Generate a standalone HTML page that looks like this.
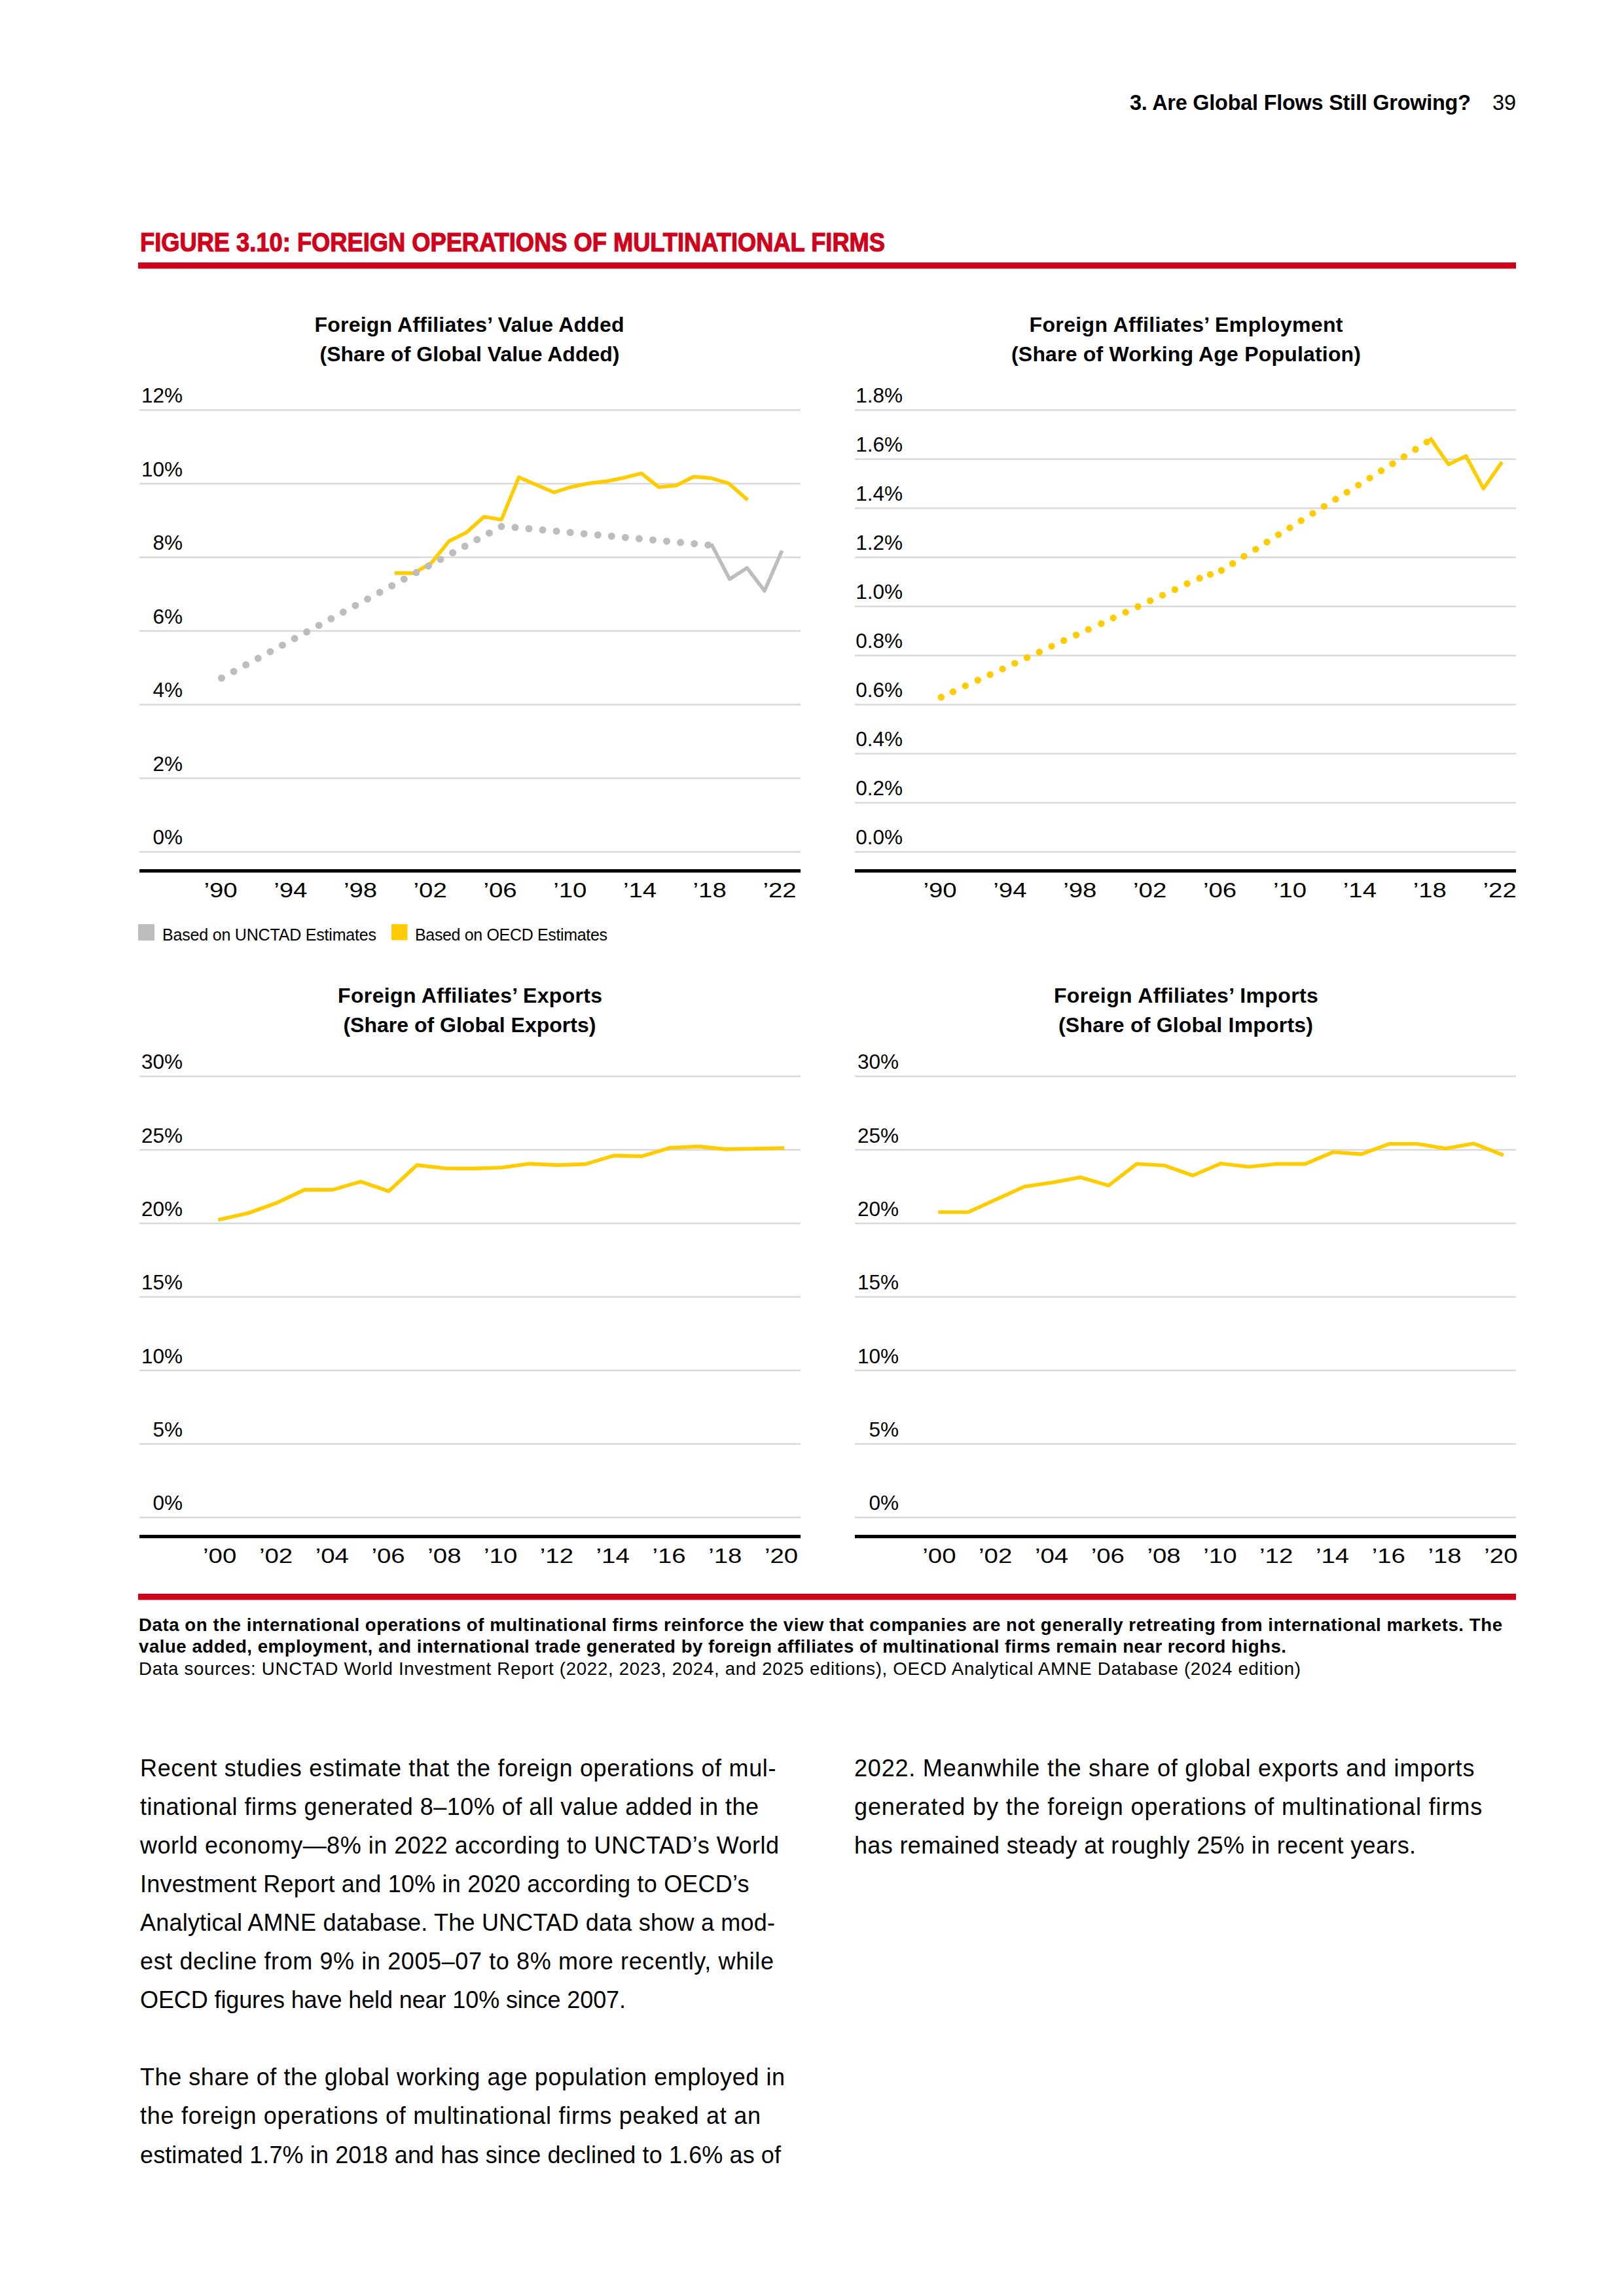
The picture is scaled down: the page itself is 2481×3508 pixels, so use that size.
<!DOCTYPE html>
<html><head><meta charset="utf-8"><title>Figure 3.10</title>
<style>
html,body{margin:0;padding:0;background:#fff;}
body{width:2481px;height:3508px;overflow:hidden;}
svg{display:block;font-family:"Liberation Sans", sans-serif;}
</style></head>
<body>
<svg width="2481" height="3508" viewBox="0 0 2481 3508">
<rect x="0" y="0" width="2481" height="3508" fill="#fff"/>
<text x="1726.0" y="168.0" font-size="32.4" font-weight="bold" text-anchor="start" textLength="521.0" lengthAdjust="spacing" fill="#000">3. Are Global Flows Still Growing?</text>
<text x="2280.0" y="168.0" font-size="32.4" text-anchor="start" fill="#000">39</text>
<text transform="translate(214,384) scale(0.8915,1)" x="0" y="0" font-size="40.7" font-weight="bold" fill="#d0021b" stroke="#d0021b" stroke-width="1.2">FIGURE 3.10: FOREIGN OPERATIONS OF MULTINATIONAL FIRMS</text>
<rect x="211" y="401" width="2105" height="9.5" fill="#d0021b"/>
<rect x="213" y="625.25" width="1010" height="2.5" fill="#d9d9d9"/>
<text x="279.0" y="615.3" font-size="31.5" text-anchor="end" fill="#000">12%</text>
<rect x="213" y="737.77" width="1010" height="2.5" fill="#d9d9d9"/>
<text x="279.0" y="727.8" font-size="31.5" text-anchor="end" fill="#000">10%</text>
<rect x="213" y="850.28" width="1010" height="2.5" fill="#d9d9d9"/>
<text x="279.0" y="840.3" font-size="31.5" text-anchor="end" fill="#000">8%</text>
<rect x="213" y="962.80" width="1010" height="2.5" fill="#d9d9d9"/>
<text x="279.0" y="952.8" font-size="31.5" text-anchor="end" fill="#000">6%</text>
<rect x="213" y="1075.32" width="1010" height="2.5" fill="#d9d9d9"/>
<text x="279.0" y="1065.4" font-size="31.5" text-anchor="end" fill="#000">4%</text>
<rect x="213" y="1187.83" width="1010" height="2.5" fill="#d9d9d9"/>
<text x="279.0" y="1177.9" font-size="31.5" text-anchor="end" fill="#000">2%</text>
<rect x="213" y="1300.35" width="1010" height="2.5" fill="#d9d9d9"/>
<text x="279.0" y="1290.4" font-size="31.5" text-anchor="end" fill="#000">0%</text>
<rect x="213" y="1328" width="1010" height="5.2" fill="#000"/>
<text transform="translate(337.0,1371) scale(1.2,1)" x="0" y="0" font-size="32" text-anchor="middle">’90</text>
<text transform="translate(443.8,1371) scale(1.2,1)" x="0" y="0" font-size="32" text-anchor="middle">’94</text>
<text transform="translate(550.5,1371) scale(1.2,1)" x="0" y="0" font-size="32" text-anchor="middle">’98</text>
<text transform="translate(657.2,1371) scale(1.2,1)" x="0" y="0" font-size="32" text-anchor="middle">’02</text>
<text transform="translate(764.0,1371) scale(1.2,1)" x="0" y="0" font-size="32" text-anchor="middle">’06</text>
<text transform="translate(870.8,1371) scale(1.2,1)" x="0" y="0" font-size="32" text-anchor="middle">’10</text>
<text transform="translate(977.5,1371) scale(1.2,1)" x="0" y="0" font-size="32" text-anchor="middle">’14</text>
<text transform="translate(1084.2,1371) scale(1.2,1)" x="0" y="0" font-size="32" text-anchor="middle">’18</text>
<text transform="translate(1191.0,1371) scale(1.2,1)" x="0" y="0" font-size="32" text-anchor="middle">’22</text>
<rect x="1306" y="625.25" width="1010" height="2.5" fill="#d9d9d9"/>
<text x="1379.0" y="615.3" font-size="31.5" text-anchor="end" fill="#000">1.8%</text>
<rect x="1306" y="700.26" width="1010" height="2.5" fill="#d9d9d9"/>
<text x="1379.0" y="690.3" font-size="31.5" text-anchor="end" fill="#000">1.6%</text>
<rect x="1306" y="775.27" width="1010" height="2.5" fill="#d9d9d9"/>
<text x="1379.0" y="765.3" font-size="31.5" text-anchor="end" fill="#000">1.4%</text>
<rect x="1306" y="850.28" width="1010" height="2.5" fill="#d9d9d9"/>
<text x="1379.0" y="840.3" font-size="31.5" text-anchor="end" fill="#000">1.2%</text>
<rect x="1306" y="925.29" width="1010" height="2.5" fill="#d9d9d9"/>
<text x="1379.0" y="915.3" font-size="31.5" text-anchor="end" fill="#000">1.0%</text>
<rect x="1306" y="1000.31" width="1010" height="2.5" fill="#d9d9d9"/>
<text x="1379.0" y="990.4" font-size="31.5" text-anchor="end" fill="#000">0.8%</text>
<rect x="1306" y="1075.32" width="1010" height="2.5" fill="#d9d9d9"/>
<text x="1379.0" y="1065.4" font-size="31.5" text-anchor="end" fill="#000">0.6%</text>
<rect x="1306" y="1150.33" width="1010" height="2.5" fill="#d9d9d9"/>
<text x="1379.0" y="1140.4" font-size="31.5" text-anchor="end" fill="#000">0.4%</text>
<rect x="1306" y="1225.34" width="1010" height="2.5" fill="#d9d9d9"/>
<text x="1379.0" y="1215.4" font-size="31.5" text-anchor="end" fill="#000">0.2%</text>
<rect x="1306" y="1300.35" width="1010" height="2.5" fill="#d9d9d9"/>
<text x="1379.0" y="1290.4" font-size="31.5" text-anchor="end" fill="#000">0.0%</text>
<rect x="1306" y="1328" width="1010" height="5.2" fill="#000"/>
<text transform="translate(1436.0,1371) scale(1.2,1)" x="0" y="0" font-size="32" text-anchor="middle">’90</text>
<text transform="translate(1542.9,1371) scale(1.2,1)" x="0" y="0" font-size="32" text-anchor="middle">’94</text>
<text transform="translate(1649.8,1371) scale(1.2,1)" x="0" y="0" font-size="32" text-anchor="middle">’98</text>
<text transform="translate(1756.7,1371) scale(1.2,1)" x="0" y="0" font-size="32" text-anchor="middle">’02</text>
<text transform="translate(1863.6,1371) scale(1.2,1)" x="0" y="0" font-size="32" text-anchor="middle">’06</text>
<text transform="translate(1970.5,1371) scale(1.2,1)" x="0" y="0" font-size="32" text-anchor="middle">’10</text>
<text transform="translate(2077.4,1371) scale(1.2,1)" x="0" y="0" font-size="32" text-anchor="middle">’14</text>
<text transform="translate(2184.3,1371) scale(1.2,1)" x="0" y="0" font-size="32" text-anchor="middle">’18</text>
<text transform="translate(2291.2,1371) scale(1.2,1)" x="0" y="0" font-size="32" text-anchor="middle">’22</text>
<rect x="213" y="1643.25" width="1010" height="2.5" fill="#d9d9d9"/>
<text x="279.0" y="1633.3" font-size="31.5" text-anchor="end" fill="#000">30%</text>
<rect x="213" y="1755.58" width="1010" height="2.5" fill="#d9d9d9"/>
<text x="279.0" y="1745.6" font-size="31.5" text-anchor="end" fill="#000">25%</text>
<rect x="213" y="1867.92" width="1010" height="2.5" fill="#d9d9d9"/>
<text x="279.0" y="1858.0" font-size="31.5" text-anchor="end" fill="#000">20%</text>
<rect x="213" y="1980.25" width="1010" height="2.5" fill="#d9d9d9"/>
<text x="279.0" y="1970.3" font-size="31.5" text-anchor="end" fill="#000">15%</text>
<rect x="213" y="2092.58" width="1010" height="2.5" fill="#d9d9d9"/>
<text x="279.0" y="2082.6" font-size="31.5" text-anchor="end" fill="#000">10%</text>
<rect x="213" y="2204.92" width="1010" height="2.5" fill="#d9d9d9"/>
<text x="279.0" y="2195.0" font-size="31.5" text-anchor="end" fill="#000">5%</text>
<rect x="213" y="2317.25" width="1010" height="2.5" fill="#d9d9d9"/>
<text x="279.0" y="2307.3" font-size="31.5" text-anchor="end" fill="#000">0%</text>
<rect x="213" y="2345" width="1010" height="5.2" fill="#000"/>
<text transform="translate(335.7,2388) scale(1.2,1)" x="0" y="0" font-size="32" text-anchor="middle">’00</text>
<text transform="translate(421.5,2388) scale(1.2,1)" x="0" y="0" font-size="32" text-anchor="middle">’02</text>
<text transform="translate(507.3,2388) scale(1.2,1)" x="0" y="0" font-size="32" text-anchor="middle">’04</text>
<text transform="translate(593.1,2388) scale(1.2,1)" x="0" y="0" font-size="32" text-anchor="middle">’06</text>
<text transform="translate(678.9,2388) scale(1.2,1)" x="0" y="0" font-size="32" text-anchor="middle">’08</text>
<text transform="translate(764.7,2388) scale(1.2,1)" x="0" y="0" font-size="32" text-anchor="middle">’10</text>
<text transform="translate(850.4,2388) scale(1.2,1)" x="0" y="0" font-size="32" text-anchor="middle">’12</text>
<text transform="translate(936.2,2388) scale(1.2,1)" x="0" y="0" font-size="32" text-anchor="middle">’14</text>
<text transform="translate(1022.0,2388) scale(1.2,1)" x="0" y="0" font-size="32" text-anchor="middle">’16</text>
<text transform="translate(1107.8,2388) scale(1.2,1)" x="0" y="0" font-size="32" text-anchor="middle">’18</text>
<text transform="translate(1193.6,2388) scale(1.2,1)" x="0" y="0" font-size="32" text-anchor="middle">’20</text>
<rect x="1306" y="1643.25" width="1010" height="2.5" fill="#d9d9d9"/>
<text x="1373.1" y="1633.3" font-size="31.5" text-anchor="end" fill="#000">30%</text>
<rect x="1306" y="1755.58" width="1010" height="2.5" fill="#d9d9d9"/>
<text x="1373.1" y="1745.6" font-size="31.5" text-anchor="end" fill="#000">25%</text>
<rect x="1306" y="1867.92" width="1010" height="2.5" fill="#d9d9d9"/>
<text x="1373.1" y="1858.0" font-size="31.5" text-anchor="end" fill="#000">20%</text>
<rect x="1306" y="1980.25" width="1010" height="2.5" fill="#d9d9d9"/>
<text x="1373.1" y="1970.3" font-size="31.5" text-anchor="end" fill="#000">15%</text>
<rect x="1306" y="2092.58" width="1010" height="2.5" fill="#d9d9d9"/>
<text x="1373.1" y="2082.6" font-size="31.5" text-anchor="end" fill="#000">10%</text>
<rect x="1306" y="2204.92" width="1010" height="2.5" fill="#d9d9d9"/>
<text x="1373.1" y="2195.0" font-size="31.5" text-anchor="end" fill="#000">5%</text>
<rect x="1306" y="2317.25" width="1010" height="2.5" fill="#d9d9d9"/>
<text x="1373.1" y="2307.3" font-size="31.5" text-anchor="end" fill="#000">0%</text>
<rect x="1306" y="2345" width="1010" height="5.2" fill="#000"/>
<text transform="translate(1434.9,2388) scale(1.2,1)" x="0" y="0" font-size="32" text-anchor="middle">’00</text>
<text transform="translate(1520.7,2388) scale(1.2,1)" x="0" y="0" font-size="32" text-anchor="middle">’02</text>
<text transform="translate(1606.5,2388) scale(1.2,1)" x="0" y="0" font-size="32" text-anchor="middle">’04</text>
<text transform="translate(1692.3,2388) scale(1.2,1)" x="0" y="0" font-size="32" text-anchor="middle">’06</text>
<text transform="translate(1778.1,2388) scale(1.2,1)" x="0" y="0" font-size="32" text-anchor="middle">’08</text>
<text transform="translate(1863.9,2388) scale(1.2,1)" x="0" y="0" font-size="32" text-anchor="middle">’10</text>
<text transform="translate(1949.7,2388) scale(1.2,1)" x="0" y="0" font-size="32" text-anchor="middle">’12</text>
<text transform="translate(2035.5,2388) scale(1.2,1)" x="0" y="0" font-size="32" text-anchor="middle">’14</text>
<text transform="translate(2121.3,2388) scale(1.2,1)" x="0" y="0" font-size="32" text-anchor="middle">’16</text>
<text transform="translate(2207.1,2388) scale(1.2,1)" x="0" y="0" font-size="32" text-anchor="middle">’18</text>
<text transform="translate(2292.9,2388) scale(1.2,1)" x="0" y="0" font-size="32" text-anchor="middle">’20</text>
<text x="717.0" y="507.0" font-size="32" font-weight="bold" text-anchor="middle" textLength="473.0" lengthAdjust="spacing" fill="#000">Foreign Affiliates’ Value Added</text>
<text x="717.5" y="552.0" font-size="32" font-weight="bold" text-anchor="middle" textLength="458.0" lengthAdjust="spacing" fill="#000">(Share of Global Value Added)</text>
<text x="1812.0" y="507.0" font-size="32" font-weight="bold" text-anchor="middle" textLength="479.0" lengthAdjust="spacing" fill="#000">Foreign Affiliates’ Employment</text>
<text x="1812.0" y="552.0" font-size="32" font-weight="bold" text-anchor="middle" textLength="534.0" lengthAdjust="spacing" fill="#000">(Share of Working Age Population)</text>
<text x="718.1" y="1532.0" font-size="32" font-weight="bold" text-anchor="middle" textLength="404.0" lengthAdjust="spacing" fill="#000">Foreign Affiliates’ Exports</text>
<text x="717.4" y="1577.0" font-size="32" font-weight="bold" text-anchor="middle" textLength="386.0" lengthAdjust="spacing" fill="#000">(Share of Global Exports)</text>
<text x="1811.9" y="1532.0" font-size="32" font-weight="bold" text-anchor="middle" textLength="404.0" lengthAdjust="spacing" fill="#000">Foreign Affiliates’ Imports</text>
<text x="1811.5" y="1577.0" font-size="32" font-weight="bold" text-anchor="middle" textLength="389.0" lengthAdjust="spacing" fill="#000">(Share of Global Imports)</text>
<rect x="211" y="1412" width="25" height="25" fill="#bdbdbd"/>
<text x="248.0" y="1436.5" font-size="25" text-anchor="start" textLength="327.0" lengthAdjust="spacing" fill="#000">Based on UNCTAD Estimates</text>
<rect x="598" y="1412" width="24.5" height="24.5" fill="#ffcc00"/>
<text x="634.0" y="1436.5" font-size="25" text-anchor="start" textLength="294.0" lengthAdjust="spacing" fill="#000">Based on OECD Estimates</text>
<polyline points="605.7,875.6 632.4,875.6 659.1,860.0 685.9,827.0 712.6,813.6 739.3,789.6 766.0,794.0 792.7,729.2 819.5,740.7 846.2,752.3 872.9,743.9 899.6,738.5 926.3,735.4 953.1,730.0 979.8,723.3 1006.5,744.2 1033.2,741.7 1059.9,728.2 1086.7,730.6 1113.4,738.6 1140.1,762.0" fill="none" stroke="#ffcc00" stroke-width="5.6" stroke-linecap="square" stroke-linejoin="round"/>
<polyline points="338.5,1036.0 766.6,804.0 1087.9,833.2" fill="none" stroke="#bdbdbd" stroke-width="11" stroke-linecap="round" stroke-linejoin="round" stroke-dasharray="0 21.14"/>
<polyline points="1087.9,833.5 1114.6,884.8 1141.3,867.7 1168.0,902.7 1193.5,844.0" fill="none" stroke="#bdbdbd" stroke-width="5.6" stroke-linecap="square" stroke-linejoin="round"/>
<g fill="#ffcc00"><circle cx="1437.8" cy="1065.2" r="5.2"/><circle cx="1455.9" cy="1056.9" r="5.2"/><circle cx="1474.8" cy="1047.9" r="5.2"/><circle cx="1493.8" cy="1039.3" r="5.2"/><circle cx="1512.6" cy="1030.7" r="5.2"/><circle cx="1531.6" cy="1022.1" r="5.2"/><circle cx="1550.2" cy="1013.4" r="5.2"/><circle cx="1569.1" cy="1004.8" r="5.2"/><circle cx="1587.8" cy="996.2" r="5.2"/><circle cx="1606.6" cy="987.4" r="5.2"/><circle cx="1625.2" cy="978.8" r="5.2"/><circle cx="1644.1" cy="970.2" r="5.2"/><circle cx="1662.8" cy="961.6" r="5.2"/><circle cx="1682.4" cy="952.8" r="5.2"/><circle cx="1700.7" cy="944.1" r="5.2"/><circle cx="1719.7" cy="935.4" r="5.2"/><circle cx="1738.4" cy="926.7" r="5.2"/><circle cx="1757.2" cy="917.9" r="5.2"/><circle cx="1776" cy="909.4" r="5.2"/><circle cx="1794.9" cy="900.7" r="5.2"/><circle cx="1813.6" cy="891.8" r="5.2"/><circle cx="1832.6" cy="883.5" r="5.2"/><circle cx="1849" cy="877.6" r="5.2"/><circle cx="1866" cy="871.5" r="5.2"/><circle cx="1883.2" cy="861" r="5.2"/><circle cx="1900.4" cy="849.9" r="5.2"/><circle cx="1918.3" cy="839.2" r="5.2"/><circle cx="1935.5" cy="828.3" r="5.2"/><circle cx="1953.05" cy="816.9" r="5.2"/><circle cx="1970.45" cy="806.35" r="5.2"/><circle cx="1987.7" cy="795.5" r="5.2"/><circle cx="2005.4" cy="784.4" r="5.2"/><circle cx="2022.8" cy="773.6" r="5.2"/><circle cx="2040.4" cy="762.8" r="5.2"/><circle cx="2057.8" cy="752.1" r="5.2"/><circle cx="2075.2" cy="741.1" r="5.2"/><circle cx="2092.6" cy="730.4" r="5.2"/><circle cx="2110.1" cy="719.3" r="5.2"/><circle cx="2127.5" cy="708.5" r="5.2"/><circle cx="2144.9" cy="697.7" r="5.2"/><circle cx="2162.4" cy="686.5" r="5.2"/><circle cx="2179.8" cy="675.4" r="5.2"/></g>
<polyline points="2186.2,671.2 2212.9,709.5 2239.6,696.7 2266.3,746.5 2293.0,708.2" fill="none" stroke="#ffcc00" stroke-width="5.6" stroke-linecap="square" stroke-linejoin="round"/>
<polyline points="336.1,1863.2 379.1,1853.5 422.0,1838.2 465.0,1817.9 508.0,1817.9 551.0,1805.4 593.9,1820.0 636.9,1780.1 679.9,1785.0 722.8,1785.4 765.8,1784.0 808.8,1778.1 851.7,1780.1 894.7,1778.6 937.7,1765.6 980.6,1766.6 1023.6,1753.7 1066.6,1751.6 1109.6,1755.9 1152.5,1755.0 1195.5,1754.0" fill="none" stroke="#ffcc00" stroke-width="5.6" stroke-linecap="square" stroke-linejoin="round"/>
<polyline points="1436.2,1852.0 1479.1,1852.0 1522.0,1832.5 1564.9,1813.0 1607.8,1806.7 1650.7,1798.8 1693.6,1811.4 1736.5,1778.3 1779.4,1780.8 1822.3,1796.0 1865.2,1777.7 1908.1,1782.8 1951.0,1778.3 1993.9,1778.4 2036.8,1760.2 2079.7,1763.4 2122.6,1747.7 2165.5,1747.7 2208.4,1754.8 2251.3,1747.2 2294.2,1764.0" fill="none" stroke="#ffcc00" stroke-width="5.6" stroke-linecap="square" stroke-linejoin="round"/>
<rect x="211" y="2435" width="2105" height="9.5" fill="#d0021b"/>
<text x="212.0" y="2492.0" font-size="27.6" font-weight="bold" text-anchor="start" textLength="2083.0" lengthAdjust="spacing" fill="#000">Data on the international operations of multinational firms reinforce the view that companies are not generally retreating from international markets. The</text>
<text x="212.0" y="2525.0" font-size="27.6" font-weight="bold" text-anchor="start" textLength="1753.0" lengthAdjust="spacing" fill="#000">value added, employment, and international trade generated by foreign affiliates of multinational firms remain near record highs.</text>
<text x="212.0" y="2559.0" font-size="27.6" text-anchor="start" textLength="1775.0" lengthAdjust="spacing" fill="#000">Data sources: UNCTAD World Investment Report (2022, 2023, 2024, and 2025 editions), OECD Analytical AMNE Database (2024 edition)</text>
<text x="214.0" y="2714.0" font-size="36" text-anchor="start" textLength="971.5" lengthAdjust="spacing" fill="#000">Recent studies estimate that the foreign operations of mul-</text>
<text x="214.0" y="2773.1" font-size="36" text-anchor="start" textLength="945.0" lengthAdjust="spacing" fill="#000">tinational firms generated 8–10% of all value added in the</text>
<text x="214.0" y="2832.1" font-size="36" text-anchor="start" textLength="976.0" lengthAdjust="spacing" fill="#000">world economy—8% in 2022 according to UNCTAD’s World</text>
<text x="214.0" y="2891.2" font-size="36" text-anchor="start" textLength="930.5" lengthAdjust="spacing" fill="#000">Investment Report and 10% in 2020 according to OECD’s</text>
<text x="214.0" y="2950.2" font-size="36" text-anchor="start" textLength="970.0" lengthAdjust="spacing" fill="#000">Analytical AMNE database. The UNCTAD data show a mod-</text>
<text x="214.0" y="3009.2" font-size="36" text-anchor="start" textLength="968.0" lengthAdjust="spacing" fill="#000">est decline from 9% in 2005–07 to 8% more recently, while</text>
<text x="214.0" y="3068.3" font-size="36" text-anchor="start" textLength="742.0" lengthAdjust="spacing" fill="#000">OECD figures have held near 10% since 2007.</text>
<text x="214.0" y="3186.4" font-size="36" text-anchor="start" textLength="985.0" lengthAdjust="spacing" fill="#000">The share of the global working age population employed in</text>
<text x="214.0" y="3245.4" font-size="36" text-anchor="start" textLength="948.0" lengthAdjust="spacing" fill="#000">the foreign operations of multinational firms peaked at an</text>
<text x="214.0" y="3304.5" font-size="36" text-anchor="start" textLength="979.0" lengthAdjust="spacing" fill="#000">estimated 1.7% in 2018 and has since declined to 1.6% as of</text>
<text x="1305.0" y="2714.0" font-size="36" text-anchor="start" textLength="947.4" lengthAdjust="spacing" fill="#000">2022. Meanwhile the share of global exports and imports</text>
<text x="1305.0" y="2773.1" font-size="36" text-anchor="start" textLength="959.2" lengthAdjust="spacing" fill="#000">generated by the foreign operations of multinational firms</text>
<text x="1305.0" y="2832.1" font-size="36" text-anchor="start" textLength="858.0" lengthAdjust="spacing" fill="#000">has remained steady at roughly 25% in recent years.</text>
</svg>
</body></html>
